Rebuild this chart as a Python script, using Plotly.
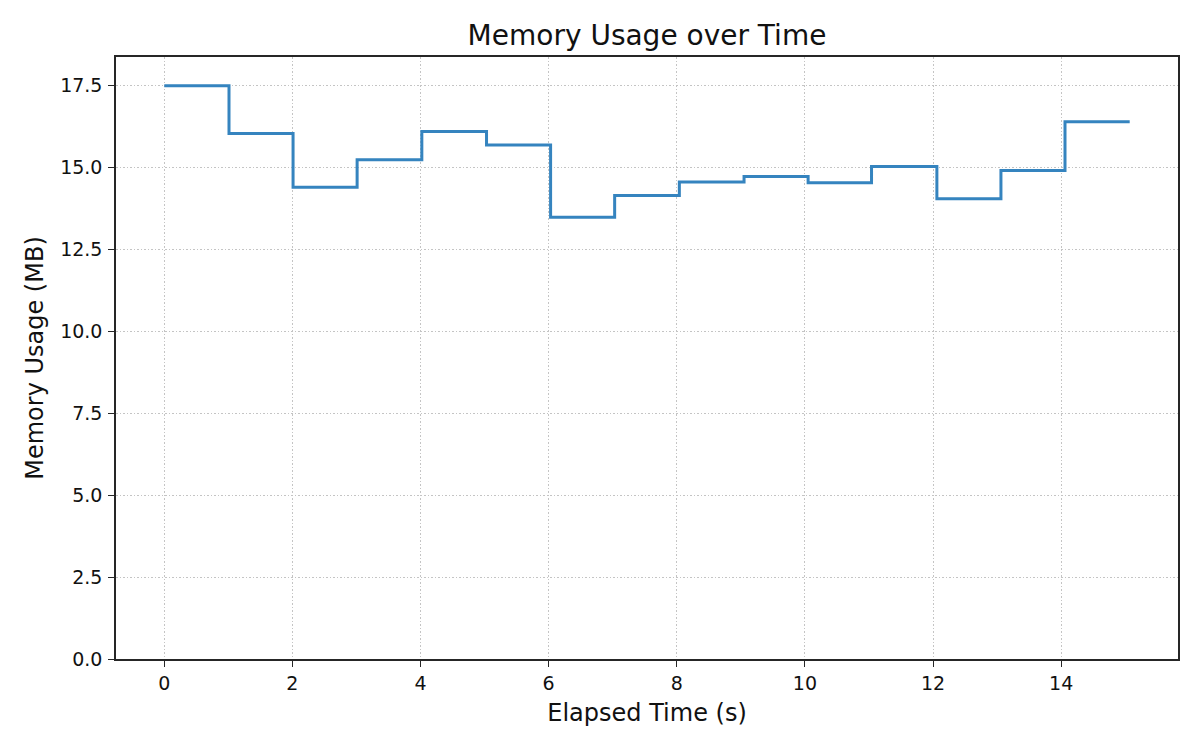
import plotly.graph_objects as go

elapsed_s = [0, 1.01, 2.01, 3.01, 4.02, 5.03, 6.03, 7.03, 8.04, 9.05,
             10.05, 11.04, 12.06, 13.06, 14.06, 15.07]
memory_mb = [17.5, 16.04, 14.40, 15.24, 16.10, 15.69, 13.48, 14.15, 14.56, 14.73,
             14.54, 15.03, 14.05, 14.91, 16.40, 16.40]
x_ticks = [0, 2, 4, 6, 8, 10, 12, 14]
y_ticks = [0.0, 2.5, 5.0, 7.5, 10.0, 12.5, 15.0, 17.5]

FONT = "DejaVu Sans"

fig = go.Figure()
fig.add_trace(go.Scatter(
    x=elapsed_s, y=memory_mb, mode="lines",
    line=dict(shape="hv", color="#3584bf", width=3),
    showlegend=False, hoverinfo="x+y",
))

axis_common = dict(
    showline=True, linecolor="#262626", linewidth=1.5, mirror=True,
    ticks="outside", ticklen=6, tickwidth=1.3, tickcolor="#262626",
    showgrid=True, gridcolor="#c4c4c4", griddash="1.5px,2px", gridwidth=1,
    zeroline=False,
    tickfont=dict(family=FONT, size=19, color="#111111"),
)

fig.update_layout(
    width=1200, height=750,
    paper_bgcolor="white", plot_bgcolor="white",
    margin=dict(l=108, r=30, t=49, b=99),
    font=dict(family=FONT, color="#111111"),
    title=dict(text="Memory Usage over Time", x=0.5, xref="paper",
               y=1 - 27 / 750, yref="container", yanchor="middle",
               font=dict(family=FONT, size=28, color="#111111")),
    xaxis=dict(range=[-0.754, 15.824], tickvals=x_ticks,
               title=dict(text="Elapsed Time (s)", standoff=12,
                          font=dict(family=FONT, size=24, color="#111111")),
               **axis_common),
    yaxis=dict(range=[0, 18.375], tickvals=y_ticks, tickformat=".1f",
               ticklabelstandoff=2,
               title=dict(text="Memory Usage (MB)", standoff=10,
                          font=dict(family=FONT, size=24, color="#111111")),
               **axis_common),
)

fig.write_html("out.html")
